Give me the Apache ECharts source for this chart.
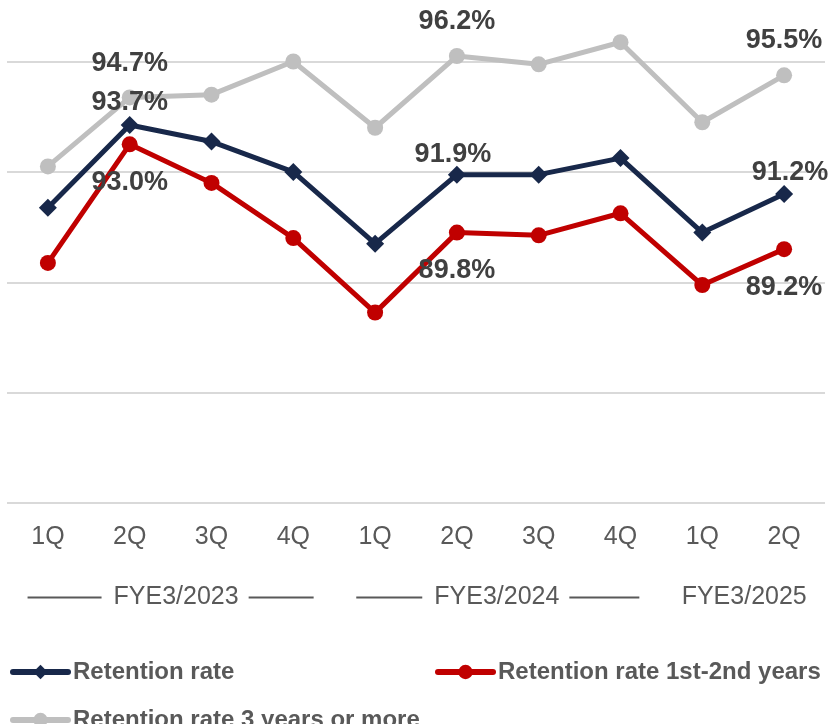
<!DOCTYPE html>
<html>
<head>
<meta charset="utf-8">
<script src="https://cdn.jsdelivr.net/npm/echarts@6/dist/echarts.min.js"></script>
<style>html,body{margin:0;padding:0;background:#fff}#c{width:831px;height:724px}</style>
</head>
<body>
<div id="c"></div>
<script>
const categories = ['1Q','2Q','3Q','4Q','1Q','2Q','3Q','4Q','1Q','2Q'];
const fiscalYears = ['FYE3/2023','FYE3/2024','FYE3/2025'];
const fiscalYearSpans = [[0,3],[4,7],[8,9]];
const retention = [90.7, 93.7, 93.1, 92.0, 89.4, 91.9, 91.9, 92.5, 89.8, 91.2];
const retention12 = [88.7, 93.0, 91.6, 89.6, 86.9, 89.8, 89.7, 90.5, 87.9, 89.2];
const retention3 = [92.2, 94.7, 94.8, 96.0, 93.6, 96.2, 95.9, 96.7, 93.8, 95.5];
const seriesNames = ['Retention rate','Retention rate 1st-2nd years','Retention rate 3 years or more'];
const labeledIdx = [1, 5, 9];

const FONT = "'Liberation Sans', Arial, sans-serif";
const TEXT = '#595959';

const labelOffsets = [
  {1:[0,-22], 5:[-4,-20], 9:[6,-21]},
  {1:[0,38], 5:[0,38], 9:[0,38]},
  {1:[0,-34], 5:[0,-34], 9:[0,-35]}
];

function build(values, si) {
  return values.map((v, i) => labeledIdx.includes(i) ? {
    value: v,
    label: { show: true, position: 'inside', offset: labelOffsets[si][i] }
  } : v);
}

const fyCenters = fiscalYearSpans.map(s => (s[0] + s[1]) / 2);
const lineWidths = [[74,65],[66,70],[0,0]];
const rich = { t: { fontSize: 25, color: TEXT, fontFamily: FONT, padding: [0,10,0,12], verticalAlign: 'middle' } };
lineWidths.forEach((w, k) => {
  rich['l'+k] = { width: w[0], height: 2, backgroundColor: TEXT, verticalAlign: 'middle' };
  rich['r'+k] = { width: w[1], height: 2, backgroundColor: TEXT, verticalAlign: 'middle' };
});

const colors = ['#18284a', '#c00000', '#bfbfbf'];
const symbols = ['diamond', 'circle', 'circle'];
const symbolSizes = [18, 16, 16];
const dataSets = [retention, retention12, retention3];

const legendText = { fontSize: 24, fontWeight: 'bold', color: TEXT, fontFamily: FONT, lineHeight: 26 };
function legendAt(name, left, top) {
  return {
    orient: 'horizontal', left: left, top: top, padding: 0,
    itemWidth: 55, itemHeight: 18, itemGap: 5,
    data: [name], textStyle: legendText,
    lineStyle: { width: 6, cap: 'round' }
  };
}

const chart = echarts.init(document.getElementById('c'), null, {renderer: 'canvas'});
chart.setOption({
  animation: false,
  grid: { left: 7, right: 6, top: 0, bottom: 221, containLabel: false },
  xAxis: [{
    type: 'category', data: categories, boundaryGap: true,
    axisLine: { show: false }, axisTick: { show: false },
    axisLabel: { fontSize: 25, color: TEXT, fontFamily: FONT, margin: 22 }
  }, {
    type: 'value', min: -0.5, max: 9.5, interval: 0.5, position: 'bottom',
    axisLine: { show: false }, axisTick: { show: false }, splitLine: { show: false },
    axisLabel: {
      margin: 82, showMinLabel: true, showMaxLabel: true,
      formatter: function (v) {
        const k = fyCenters.indexOf(v);
        if (k < 0) return '';
        if (k === 2) return '{t|' + fiscalYears[k] + '}';
        return '{l'+k+'|}{t|' + fiscalYears[k] + '}{r'+k+'|}';
      },
      rich: rich
    }
  }],
  yAxis: {
    type: 'value', min: 80, max: 98.23, interval: 4,
    axisLabel: { show: false }, axisLine: { show: false }, axisTick: { show: false },
    splitLine: { showMaxLine: false, lineStyle: { color: '#d9d9d9', width: 2 } }
  },
  legend: [
    legendAt(seriesNames[0], 10, 659),
    legendAt(seriesNames[1], 435, 659),
    legendAt(seriesNames[2], 10, 707)
  ],
  series: dataSets.map((d, si) => ({
    name: seriesNames[si], type: 'line', xAxisIndex: 0,
    data: build(d, si),
    symbol: symbols[si], symbolSize: symbolSizes[si],
    lineStyle: { color: colors[si], width: 5 },
    itemStyle: { color: colors[si] },
    z: 3 - si,
    label: {
      show: false, position: 'inside',
      formatter: p => p.value.toFixed(1) + '%',
      fontSize: 27, fontWeight: 'bold', color: '#404040', fontFamily: FONT
    }
  }))
});
</script>
</body>
</html>
